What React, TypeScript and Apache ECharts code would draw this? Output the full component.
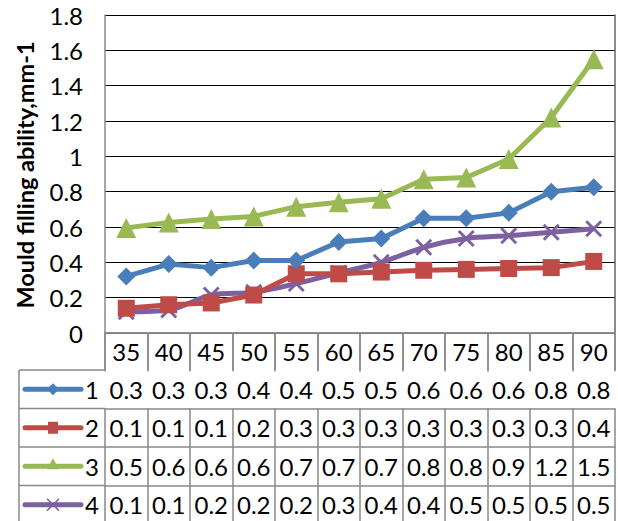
import React, { useEffect, useRef } from "react";
import * as echarts from "echarts";

const categories = ["35", "40", "45", "50", "55", "60", "65", "70", "75", "80", "85", "90"];
const seriesNames = ["1", "2", "3", "4"];
const series1 = [0.32, 0.39, 0.37, 0.41, 0.41, 0.515, 0.535, 0.65, 0.65, 0.68, 0.80, 0.825];
const series2 = [0.14, 0.16, 0.17, 0.215, 0.335, 0.335, 0.345, 0.355, 0.36, 0.365, 0.37, 0.405];
const series3 = [0.595, 0.625, 0.645, 0.66, 0.715, 0.74, 0.76, 0.87, 0.88, 0.985, 1.22, 1.55];
const series4 = [0.12, 0.13, 0.215, 0.23, 0.28, 0.34, 0.40, 0.485, 0.535, 0.55, 0.57, 0.59];
const table1 = ["0.3", "0.3", "0.3", "0.4", "0.4", "0.5", "0.5", "0.6", "0.6", "0.6", "0.8", "0.8"];
const table2 = ["0.1", "0.1", "0.1", "0.2", "0.3", "0.3", "0.3", "0.3", "0.3", "0.3", "0.3", "0.4"];
const table3 = ["0.5", "0.6", "0.6", "0.6", "0.7", "0.7", "0.7", "0.8", "0.8", "0.9", "1.2", "1.5"];
const table4 = ["0.1", "0.1", "0.2", "0.2", "0.2", "0.3", "0.4", "0.4", "0.5", "0.5", "0.5", "0.5"];
const yTitle = "Mould filling ability,mm-1";

const COLORS = ["#4A7EBB", "#BE4B48", "#98B954", "#7D60A0"];
const FONT = "Lato";
const FS = 24;
const GRAY = "#898989";

const X_PATH = "path://M0,1.2L1.2,0L10,8.8L8.8,10Z M8.8,0L10,1.2L1.2,10L0,8.8Z";

export default function App() {
  const ref = useRef<HTMLDivElement>(null);
  useEffect(() => {
    if (!ref.current) return;
    const chart = echarts.init(ref.current, null, { renderer: "svg" });
    const values = [series1, series2, series3, series4];
    const tables = [table1, table2, table3, table4];
    const gridLeft = 105;
    const gridRight = 615;
    const gridTop = 15;
    const gridBottom = 333;
    const rowTops = [370, 408.5, 447, 485.5];
    const rowH = 38.5;

    const symbols = ["diamond", "rect", "triangle", X_PATH];
    const symbolSizes = [18, 17, 20, 17];

    const lineSeries = values.map((v, i) => ({
      type: "line",
      name: seriesNames[i],
      data: v,
      xAxisIndex: 0,
      yAxisIndex: 0,
      smooth: i === 3 ? 0.3 : false,
      symbol: symbols[i],
      symbolSize: symbolSizes[i],
      showSymbol: true,
      lineStyle: { color: COLORS[i], width: 5 },
      itemStyle: { color: COLORS[i], borderWidth: 0 },
      z: 10 - i,
    }));

    const rowAxes = tables.map((t, i) => ({
      type: "category",
      gridIndex: 0,
      position: "bottom",
      offset: rowTops[i] - gridBottom,
      data: t,
      axisLine: { show: true, lineStyle: { color: GRAY, width: 1.5 } },
      axisTick: { show: true, length: rowH, lineStyle: { color: GRAY, width: 1.5 } },
      axisLabel: { margin: 7, fontFamily: FONT, fontSize: FS, color: "#000", interval: 0 },
    }));

    const graphics: any[] = [];
    graphics.push({
      type: "text",
      x: 25,
      y: 175,
      rotation: Math.PI / 2,
      style: {
        text: yTitle,
        fontFamily: FONT,
        fontSize: 23.5,
        fontWeight: "bold",
        fill: "#000",
        align: "center",
        verticalAlign: "middle",
      },
    });
    graphics.push({
      type: "line",
      shape: { x1: 19, y1: rowTops[0], x2: 19, y2: 521 },
      style: { stroke: GRAY, lineWidth: 1.5 },
    });
    rowTops.forEach((top) => {
      graphics.push({
        type: "line",
        shape: { x1: 19, y1: top, x2: gridLeft, y2: top },
        style: { stroke: GRAY, lineWidth: 1.5 },
      });
    });
    rowTops.forEach((top, i) => {
      const cy = top + rowH / 2;
      const c = COLORS[i];
      graphics.push({
        type: "line",
        shape: { x1: 25, y1: cy, x2: 81, y2: cy },
        style: { stroke: c, lineWidth: 5, lineCap: "round" },
      });
      const mx = 53;
      if (i === 0) {
        graphics.push({
          type: "polygon",
          shape: { points: [[mx, cy - 6], [mx + 6, cy], [mx, cy + 6], [mx - 6, cy]] },
          style: { fill: c },
        });
      } else if (i === 1) {
        graphics.push({ type: "rect", shape: { x: mx - 5, y: cy - 6, width: 10, height: 12 }, style: { fill: c } });
      } else if (i === 2) {
        graphics.push({
          type: "polygon",
          shape: { points: [[mx, cy - 8], [mx + 6, cy + 3], [mx - 6, cy + 3]] },
          style: { fill: c },
        });
      } else {
        graphics.push({ type: "line", shape: { x1: mx - 6, y1: cy - 6, x2: mx + 6, y2: cy + 6 }, style: { stroke: c, lineWidth: 1.5 } });
        graphics.push({ type: "line", shape: { x1: mx + 6, y1: cy - 6, x2: mx - 6, y2: cy + 6 }, style: { stroke: c, lineWidth: 1.5 } });
      }
      graphics.push({
        type: "text",
        x: 85,
        y: cy,
        style: {
          text: seriesNames[i],
          fontFamily: FONT,
          fontSize: FS,
          fill: "#000",
          verticalAlign: "middle",
          align: "left",
        },
      });
    });

    chart.setOption({
      animation: false,
      backgroundColor: "#fff",
      grid: {
        left: gridLeft,
        right: 618 - gridRight,
        top: gridTop,
        bottom: 521 - gridBottom,
        containLabel: false,
      },
      xAxis: [
        {
          type: "category",
          gridIndex: 0,
          position: "bottom",
          data: categories,
          boundaryGap: true,
          axisLine: { show: true, lineStyle: { color: GRAY, width: 1.5 } },
          axisTick: { show: true, length: rowTops[0] - gridBottom, lineStyle: { color: GRAY, width: 1.5 } },
          axisLabel: { margin: 6, fontFamily: FONT, fontSize: FS, color: "#000", interval: 0 },
        },
        ...rowAxes,
      ],
      yAxis: [
        {
          type: "value",
          min: 0,
          max: 1.8,
          interval: 0.2,
          axisLine: { show: true, lineStyle: { color: GRAY, width: 1.5 } },
          axisTick: { show: false },
          axisLabel: { margin: 22, fontFamily: FONT, fontSize: FS, color: "#000" },
          splitLine: { show: true, lineStyle: { color: "#000", width: 1.2 } },
        },
        {
          type: "value",
          position: "right",
          min: 0,
          max: 1.8,
          interval: 0.2,
          axisLine: { show: true, lineStyle: { color: "#666", width: 1.5 } },
          axisTick: { show: false },
          axisLabel: { show: false },
          splitLine: { show: false },
        },
      ],
      series: lineSeries,
      graphic: graphics,
    });
    return () => chart.dispose();
  }, []);
  return <div ref={ref} style={{ width: 618, height: 521, position: "absolute", left: 0, top: 0 }} />;
}
